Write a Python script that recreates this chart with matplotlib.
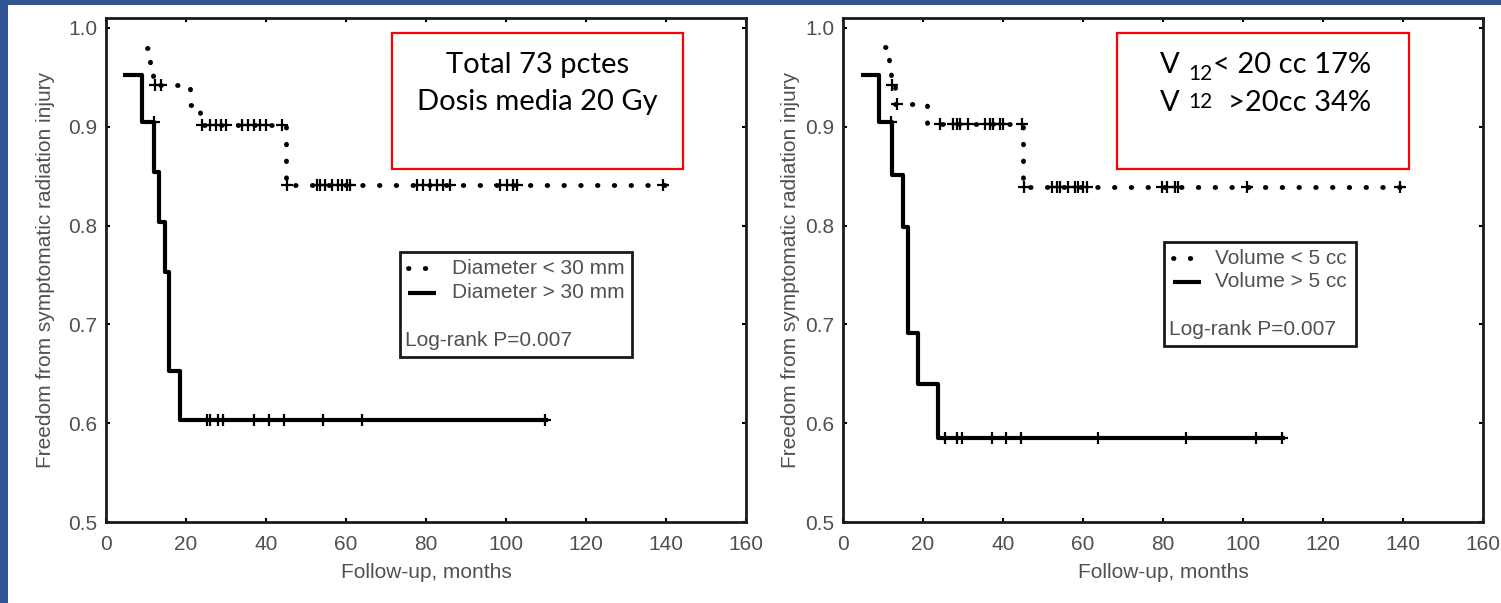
import matplotlib
matplotlib.use("Agg")
import matplotlib.pyplot as plt
import numpy as np
from matplotlib.patches import Rectangle
from matplotlib.lines import Line2D

# ---------------- data ----------------
x_ticks = [0, 20, 40, 60, 80, 100, 120, 140, 160]
y_ticks = [0.5, 0.6, 0.7, 0.8, 0.9, 1.0]
y_tick_labels = ["0.5", "0.6", "0.7", "0.8", "0.9", "1.0"]

# Left panel: diameter
left_small_t = [10.2, 11.0, 11.8, 21.0, 23.5, 45.0, 140.0]
left_small_s = [0.980, 0.961, 0.942, 0.922, 0.902, 0.841, 0.841]
left_small_cens = [12.25, 13.7, 24, 26, 27.5, 28.8, 30, 34, 35.5, 37, 38.5, 40, 44,
                   45.2, 52.7, 53.5, 54.75, 56.4, 58.1, 58.9, 60.2, 61,
                   77.7, 79.3, 81, 82.7, 84.3, 86, 98.5, 100.2, 101.8, 102.7, 139.3]
left_large_t = [4.2, 8.9, 12.0, 13.3, 14.75, 15.8, 18.5, 110.5]
left_large_s = [0.952, 0.905, 0.854, 0.804, 0.753, 0.653, 0.603, 0.603]
left_large_cens = [11.9, 25.2, 26.0, 28.0, 29.3, 37.0, 40.8, 44.5, 54.3, 63.9, 109.8]

# Right panel: volume
right_small_t = [10.5, 11.5, 12.0, 13.0, 21.0, 45.0, 140.0]
right_small_s = [0.981, 0.961, 0.942, 0.923, 0.903, 0.839, 0.839]
right_small_cens = [12.2, 13.5, 24.25, 27.6, 28.4, 29.25, 31.3, 35.5, 36.75, 37.6, 39.25,
                    40, 44.7, 45.2, 52.2, 53.4, 54.25, 56.3, 58, 58.8, 60.1, 60.9,
                    79.7, 80.9, 83, 83.8, 100.9, 139.25]
right_large_t = [4.4, 9.1, 12.2, 14.9, 16.3, 18.8, 23.8, 110.5]
right_large_s = [0.952, 0.905, 0.851, 0.799, 0.691, 0.640, 0.585, 0.585]
right_large_cens = [12.0, 25.5, 28.4, 29.7, 37.2, 40.7, 44.5, 63.8, 85.8, 103.3, 109.8]

left_labels = ["Diameter < 30 mm", "Diameter > 30 mm"]
right_labels = ["Volume < 5 cc", "Volume > 5 cc"]
logrank = "Log-rank P=0.007"
xlabel = "Follow-up, months"
ylabel = "Freedom from symptomatic radiation injury"

# ---------------- layout ----------------
W, H = 1501, 603
fig = plt.figure(figsize=(W / 100, H / 100), dpi=100)
fig.patch.set_facecolor("white")


def fx(x):
    return x / W


def fy(y):
    return 1 - y / H


GRAY = "#505050"
SANS = "Liberation Sans"
BLUE = "#2F5597"
FS = 15

# blue slide border
fig.patches.append(Rectangle((0, 0), fx(8), 1, transform=fig.transFigure,
                             facecolor=BLUE, edgecolor="none", zorder=0))
fig.patches.append(Rectangle((0, fy(5)), 1, 5 / H, transform=fig.transFigure,
                             facecolor=BLUE, edgecolor="none", zorder=0))

DOT = dict(color="black", lw=3.5, linestyle=(0, (0.1, 3.35)), dash_capstyle="round")
SOLID = dict(color="black", lw=3.0, solid_capstyle="butt")
CENS = dict(marker="+", ms=9, mew=1.6, color="black", linestyle="none")


def step_val(t, s, c):
    idx = np.searchsorted(np.asarray(t), np.asarray(c), side="right") - 1
    idx = np.clip(idx, 0, len(s) - 1)
    return np.asarray(s)[idx]


def panel(x0, st, ss, sc, lt, ls, lc):
    ax = fig.add_axes([fx(x0), fy(522), 640 / W, 504 / H])
    ax.step(st, ss, where="post", **DOT)
    ax.plot(sc, step_val(st, ss, sc), **CENS)
    ax.step(lt, ls, where="post", **SOLID)
    ax.plot(lc, step_val(lt, ls, lc), **CENS)
    ax.set_xlim(0, 160)
    ax.set_ylim(0.5, 1.0101)
    ax.set_xticks(x_ticks)
    ax.set_yticks(y_ticks)
    ax.set_yticklabels(y_tick_labels)
    ax.tick_params(direction="in", length=3, width=1.5, top=True, right=True,
                   labelsize=FS, labelcolor=GRAY, color="black")
    ax.tick_params(axis="x", pad=9)
    ax.tick_params(axis="y", pad=6)
    for lab in ax.get_xticklabels() + ax.get_yticklabels():
        lab.set_fontfamily(SANS)
    for sp in ax.spines.values():
        sp.set_linewidth(2.0)
        sp.set_color("#1a1a1a")
    return ax


ax1 = panel(106, left_small_t, left_small_s, left_small_cens,
            left_large_t, left_large_s, left_large_cens)
ax2 = panel(843, right_small_t, right_small_s, right_small_cens,
            right_large_t, right_large_s, right_large_cens)

# axis labels
for cx, lx in [(426, 46), (1163, 790)]:
    fig.text(fx(cx), fy(572), xlabel, ha="center", va="center", fontsize=FS,
             color=GRAY, family=SANS)
    fig.text(fx(lx), fy(270), ylabel, ha="center", va="center", rotation=90,
             fontsize=FS, color=GRAY, family=SANS)


# legends
def legend(box, lx0, lx1, ytop, ybot, tx, labels, lr_x, lr_y):
    x0, y0, x1, y1 = box
    fig.patches.append(Rectangle((fx(x0), fy(y1)), fx(x1) - fx(x0), fy(y0) - fy(y1),
                                 transform=fig.transFigure, facecolor="white",
                                 edgecolor="#1a1a1a", lw=2.0, zorder=5))
    fig.add_artist(Line2D([fx(lx0), fx(lx1)], [fy(ytop), fy(ytop)],
                          transform=fig.transFigure, zorder=6, **DOT))
    fig.add_artist(Line2D([fx(lx0), fx(lx1)], [fy(ybot), fy(ybot)],
                          transform=fig.transFigure, zorder=6, **SOLID))
    fig.text(fx(tx), fy(ytop), labels[0], ha="left", va="center", fontsize=FS,
             color=GRAY, family=SANS, zorder=7)
    fig.text(fx(tx), fy(ybot), labels[1], ha="left", va="center", fontsize=FS,
             color=GRAY, family=SANS, zorder=7)
    fig.text(fx(lr_x), fy(lr_y), logrank, ha="left", va="center", fontsize=FS,
             color=GRAY, family=SANS, zorder=7)


legend((400, 251.7, 631.7, 356.7), 408, 436, 268, 293, 451.7, left_labels, 405, 340)
legend((1164, 241.7, 1356, 346), 1173, 1201, 258.3, 281.7, 1215, right_labels, 1169, 330)

# red annotation boxes
for (x0, y0, x1, y1) in [(391.7, 33.3, 683.3, 169), (1116.7, 33.3, 1409.3, 169)]:
    fig.patches.append(Rectangle((fx(x0), fy(y1)), fx(x1) - fx(x0), fy(y0) - fy(y1),
                                 transform=fig.transFigure, facecolor="white",
                                 edgecolor="#FF0000", lw=1.6, zorder=5))

BIG = dict(family="Lato", color="black", fontsize=21, zorder=7, va="baseline")
fig.text(fx(537.5), fy(73.3), "Total 73 pctes", ha="center", **BIG)
fig.text(fx(537.5), fy(110), "Dosis media 20 Gy", ha="center", **BIG)

fig.text(fx(1160), fy(72.7), "V", ha="left", **BIG)
fig.text(fx(1188), fy(80), "12", ha="left", **dict(BIG, fontsize=15))
fig.text(fx(1213), fy(72.7), "< 20 cc 17%", ha="left", **BIG)
fig.text(fx(1160), fy(110.7), "V", ha="left", **BIG)
fig.text(fx(1188), fy(108.3), "12", ha="left", **dict(BIG, fontsize=15))
fig.text(fx(1228), fy(110.7), ">20cc 34%", ha="left", **BIG)

fig.savefig("out.png", dpi=100, facecolor="white")
